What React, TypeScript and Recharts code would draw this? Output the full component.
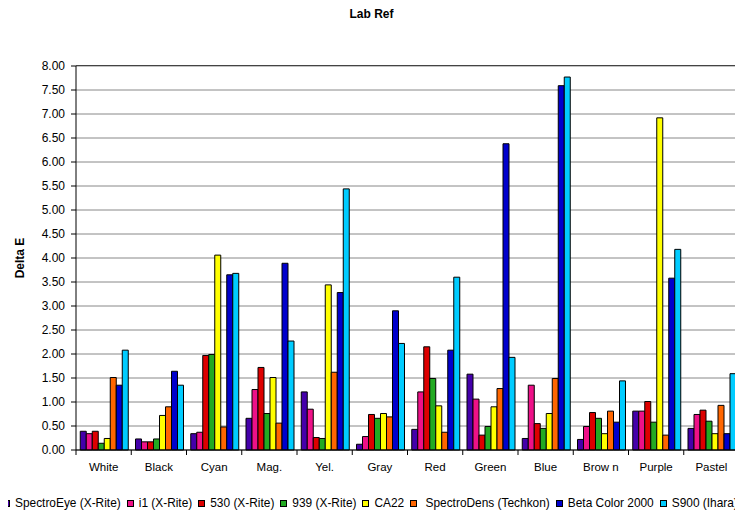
import React from "react";
import { BarChart, Bar, XAxis, YAxis, CartesianGrid, Label } from "recharts";

const categories = ["White", "Black", "Cyan", "Mag.", "Yel.", "Gray", "Red", "Green", "Blue", "Brow n", "Purple", "Pastel"];

const spectroEye = [0.39, 0.23, 0.34, 0.66, 1.21, 0.12, 0.43, 1.58, 0.24, 0.22, 0.81, 0.45];
const i1 = [0.34, 0.17, 0.37, 1.26, 0.85, 0.28, 1.21, 1.06, 1.35, 0.49, 0.81, 0.74];
const xr530 = [0.39, 0.17, 1.97, 1.72, 0.26, 0.74, 2.15, 0.31, 0.55, 0.78, 1.01, 0.83];
const xr939 = [0.14, 0.23, 1.99, 0.76, 0.24, 0.66, 1.49, 0.49, 0.45, 0.66, 0.58, 0.6];
const ca22 = [0.24, 0.72, 4.06, 1.51, 3.44, 0.76, 0.92, 0.9, 0.76, 0.34, 6.92, 0.34];
const spectroDens = [1.51, 0.9, 0.48, 0.56, 1.62, 0.69, 0.37, 1.28, 1.49, 0.81, 0.31, 0.93];
const betaColor = [1.35, 1.64, 3.65, 3.89, 3.28, 2.9, 2.08, 6.38, 7.59, 0.58, 3.58, 0.34];
const s900 = [2.08, 1.35, 3.68, 2.27, 5.44, 2.22, 3.6, 1.93, 7.77, 1.44, 4.18, 1.59];

const yTicks = [0, 0.5, 1, 1.5, 2, 2.5, 3, 3.5, 4, 4.5, 5, 5.5, 6, 6.5, 7, 7.5, 8];

const series = [
  { key: "spectroEye", name: "SpectroEye (X-Rite)", values: spectroEye, color: "#4400aa" },
  { key: "i1", name: "i1 (X-Rite)", values: i1, color: "#ee1188" },
  { key: "xr530", name: "530 (X-Rite)", values: xr530, color: "#dd0000" },
  { key: "xr939", name: "939 (X-Rite)", values: xr939, color: "#22aa22" },
  { key: "ca22", name: "CA22", values: ca22, color: "#ffff00" },
  { key: "spectroDens", name: " SpectroDens (Techkon)", values: spectroDens, color: "#ff6600" },
  { key: "betaColor", name: "Beta Color 2000", values: betaColor, color: "#0000cc" },
  { key: "s900", name: "S900 (Ihara)", values: s900, color: "#00ccff" },
];

const data = categories.map((cat, i) => {
  const row: any = { cat };
  series.forEach((s) => (row[s.key] = s.values[i]));
  return row;
});

const FONT = "'Liberation Sans', Arial, sans-serif";
const W = 743;
const H = 513;
const LEFT = 76;
const RIGHT = 4;
const TOP = 66;
const X_AXIS_H = 63;
const PLOT_W = W - LEFT - RIGHT;
const PLOT_H = H - TOP - X_AXIS_H;
const AXIS_Y = TOP + PLOT_H;
const BAND = PLOT_W / categories.length;

// category label centred in its band, with short tick marks on the band edges
function CategoryTick(props: any) {
  const { x, payload, index } = props;
  const left = x - BAND / 2;
  return (
    <g>
      <line x1={left} x2={left} y1={AXIS_Y} y2={AXIS_Y + 5} stroke="#000" />
      {index === categories.length - 1 && (
        <line x1={left + BAND} x2={left + BAND} y1={AXIS_Y} y2={AXIS_Y + 5} stroke="#000" />
      )}
      <text x={x} y={AXIS_Y + 13} dy="0.71em" textAnchor="middle" fontSize={11.5} fontFamily={FONT} fill="#000">
        {payload.value}
      </text>
    </g>
  );
}

function YTitle(props: any) {
  const { viewBox } = props;
  const cx = 20;
  const cy = viewBox.y + viewBox.height / 2;
  return (
    <text
      x={cx}
      y={cy}
      transform={`rotate(-90, ${cx}, ${cy})`}
      textAnchor="middle"
      dominantBaseline="central"
      fontSize={12}
      fontWeight="bold"
      fontFamily={FONT}
      fill="#000"
    >
      Delta E
    </text>
  );
}

export default function App() {
  return (
    <div style={{ position: "relative", width: W, height: H, margin: "-8px 0 0 -8px", background: "#fff", fontFamily: FONT }}>
      <div style={{ position: "absolute", top: 7, left: 0, width: W, textAlign: "center", fontSize: 12, fontWeight: "bold" }}>
        Lab Ref
      </div>
      <BarChart
        width={W}
        height={H}
        data={data}
        margin={{ top: TOP, right: RIGHT, bottom: 0, left: 0 }}
        barCategoryGap="7.7%"
        barGap={0}
      >
        <CartesianGrid horizontal vertical={false} verticalPoints={[]} stroke="#888" />
        <XAxis
          dataKey="cat"
          height={X_AXIS_H}
          interval={0}
          tickLine={false}
          tickSize={5}
          tickMargin={8}
          tick={<CategoryTick />}
          axisLine={{ stroke: "#000" }}
        />
        <YAxis
          width={LEFT}
          domain={[0, 8]}
          ticks={yTicks}
          interval={0}
          tickFormatter={(v: number) => v.toFixed(2)}
          tickSize={5}
          tickMargin={6}
          tick={{ fontSize: 12, fill: "#000", fontFamily: FONT }}
          axisLine={{ stroke: "#000" }}
          tickLine={{ stroke: "#000" }}
        >
          <Label content={<YTitle />} />
        </YAxis>
        {series.map((s) => (
          <Bar
            key={s.key}
            dataKey={s.key}
            name={s.name}
            fill={s.color}
            stroke="#000"
            strokeWidth={1}
            isAnimationActive={false}
          />
        ))}
      </BarChart>
      {/* plot-area frame: top and right edges */}
      <div
        style={{
          position: "absolute",
          left: LEFT,
          top: TOP - 1,
          width: PLOT_W + 1,
          height: PLOT_H + 1,
          boxSizing: "border-box",
          borderTop: "1px solid #444",
          borderRight: "1px solid #444",
          pointerEvents: "none",
        }}
      />
      <div
        style={{
          position: "absolute",
          top: 496,
          left: 3,
          whiteSpace: "pre",
          fontSize: 11.9,
          lineHeight: "14px",
          display: "flex",
          alignItems: "center",
        }}
      >
        {series.map((s) => (
          <span key={s.key} style={{ display: "inline-flex", alignItems: "center", marginRight: 6, flexShrink: 0 }}>
            <svg width={7} height={7} style={{ display: "block", flexShrink: 0, marginRight: 5 }}>
              <rect x={0.5} y={0.5} width={6} height={6} fill={s.color} stroke="#000" strokeWidth={1} />
            </svg>
            {s.name}
          </span>
        ))}
      </div>
    </div>
  );
}
